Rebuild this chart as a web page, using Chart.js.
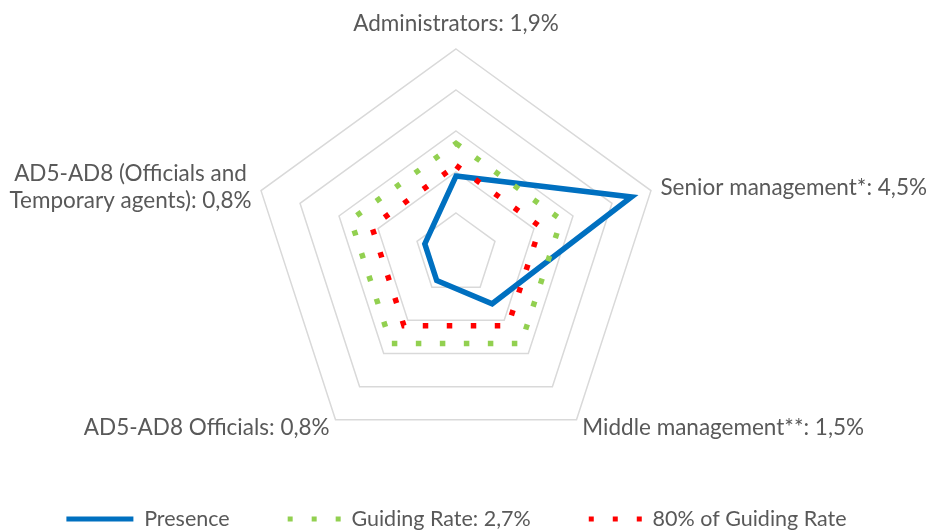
<!DOCTYPE html>
<html>
<head>
<meta charset="utf-8">
<script src="https://cdn.jsdelivr.net/npm/chart.js@4.4.1/dist/chart.umd.min.js"></script>
<style>
  body { margin: 0; background: #fff; }
</style>
</head>
<body>
<canvas id="myChart" width="931" height="531"></canvas>
<script>
const myChart = document.getElementById("myChart");

// categories (axis labels)
const categories = [
  'Administrators: 1,9%',
  'Senior management*: 4,5%',
  'Middle management**: 1,5%',
  'AD5-AD8 Officials: 0,8%',
  ['AD5-AD8 (Officials and', 'Temporary agents): 0,8%']
];

// series values
const presence = [1.9, 4.5, 1.5, 0.8, 0.8];
const guidingRate = [2.7, 2.7, 2.7, 2.7, 2.7];
const guidingRate80 = [2.16, 2.16, 2.16, 2.16, 2.16];

const seriesNames = ['Presence', 'Guiding Rate: 2,7%', '80% of Guiding Rate'];

// axis range
const rMin = 0;
const rMax = 5;
const rStep = 1;

const textColor = '#595959';
const fontFamily = 'Lato, Calibri, Carlito, sans-serif';
const fontSize = 22.5;

// draws the category labels around the web
const pointLabelText = {
  id: 'pointLabelText',
  afterDraw(chart) {
    const scale = chart.scales.r;
    const ctx = chart.ctx;
    const lineH = 27;
    ctx.save();
    ctx.font = fontSize + 'px ' + fontFamily;
    ctx.fillStyle = textColor;
    ctx.textAlign = 'center';
    ctx.textBaseline = 'middle';
    chart.data.labels.forEach((label, i) => {
      const lines = Array.isArray(label) ? label : [label];
      const p = scale.getPointPosition(i, scale.drawingArea + 10);
      const dx = p.x - scale.xCenter;
      const widest = Math.max(...lines.map(l => ctx.measureText(l).width));
      let x = p.x, y = p.y;
      if (Math.abs(dx) < 1) {
        y = p.y - 15;
      } else if (dx > 0) {
        x = p.x + widest / 2;
      } else {
        x = p.x - widest / 2;
      }
      const y0 = y - (lines.length - 1) * lineH / 2;
      lines.forEach((l, k) => ctx.fillText(l, x, y0 + k * lineH));
    });
    ctx.restore();
  }
};

const data = {
  labels: categories,
  datasets: [{
    label: seriesNames[0],
    data: presence,
    borderColor: '#0070C0',
    backgroundColor: '#0070C0',
    borderWidth: 5.5,
    fill: false,
    pointRadius: 0,
    order: 3
  }, {
    label: seriesNames[1],
    data: guidingRate,
    borderColor: '#92D050',
    backgroundColor: '#92D050',
    borderWidth: 5.5,
    borderDash: [5.5, 18.5],
    fill: false,
    pointRadius: 0,
    order: 2
  }, {
    label: seriesNames[2],
    data: guidingRate80,
    borderColor: '#FF0000',
    backgroundColor: '#FF0000',
    borderWidth: 5.5,
    borderDash: [5.5, 18.5],
    fill: false,
    pointRadius: 0,
    order: 1
  }]
};

const config = {
  type: 'radar',
  data: data,
  options: {
    responsive: false,
    animation: false,
    layout: { padding: { top: 49, right: 18, bottom: 0, left: 0 } },
    scales: {
      r: {
        min: rMin,
        max: rMax,
        ticks: { display: false, stepSize: rStep },
        grid: { color: '#d9d9d9', lineWidth: 1.5 },
        angleLines: { display: false },
        pointLabels: { display: false }
      }
    },
    plugins: {
      tooltip: { enabled: false },
      legend: {
        position: 'bottom',
        maxHeight: 72,
        // empty title only pushes the legend row down a little
        title: { display: true, text: '', font: { size: 1 }, padding: { top: 0, bottom: 4 } },
        labels: {
          usePointStyle: true,
          pointStyleWidth: 67,
          padding: 44,
          color: textColor,
          font: { family: fontFamily, size: 21.5 },
          generateLabels(chart) {
            return chart.data.datasets.map((ds, i) => ({
              text: ds.label,
              fillStyle: ds.borderColor,
              strokeStyle: ds.borderColor,
              fontColor: textColor,
              lineWidth: 5,
              lineDash: ds.borderDash ? [5, 19] : [],
              lineDashOffset: 10,
              pointStyle: 'line',
              hidden: false,
              datasetIndex: i
            }));
          }
        }
      }
    }
  },
  plugins: [pointLabelText]
};

const chart = new Chart(myChart, config);
</script>
</body>
</html>
